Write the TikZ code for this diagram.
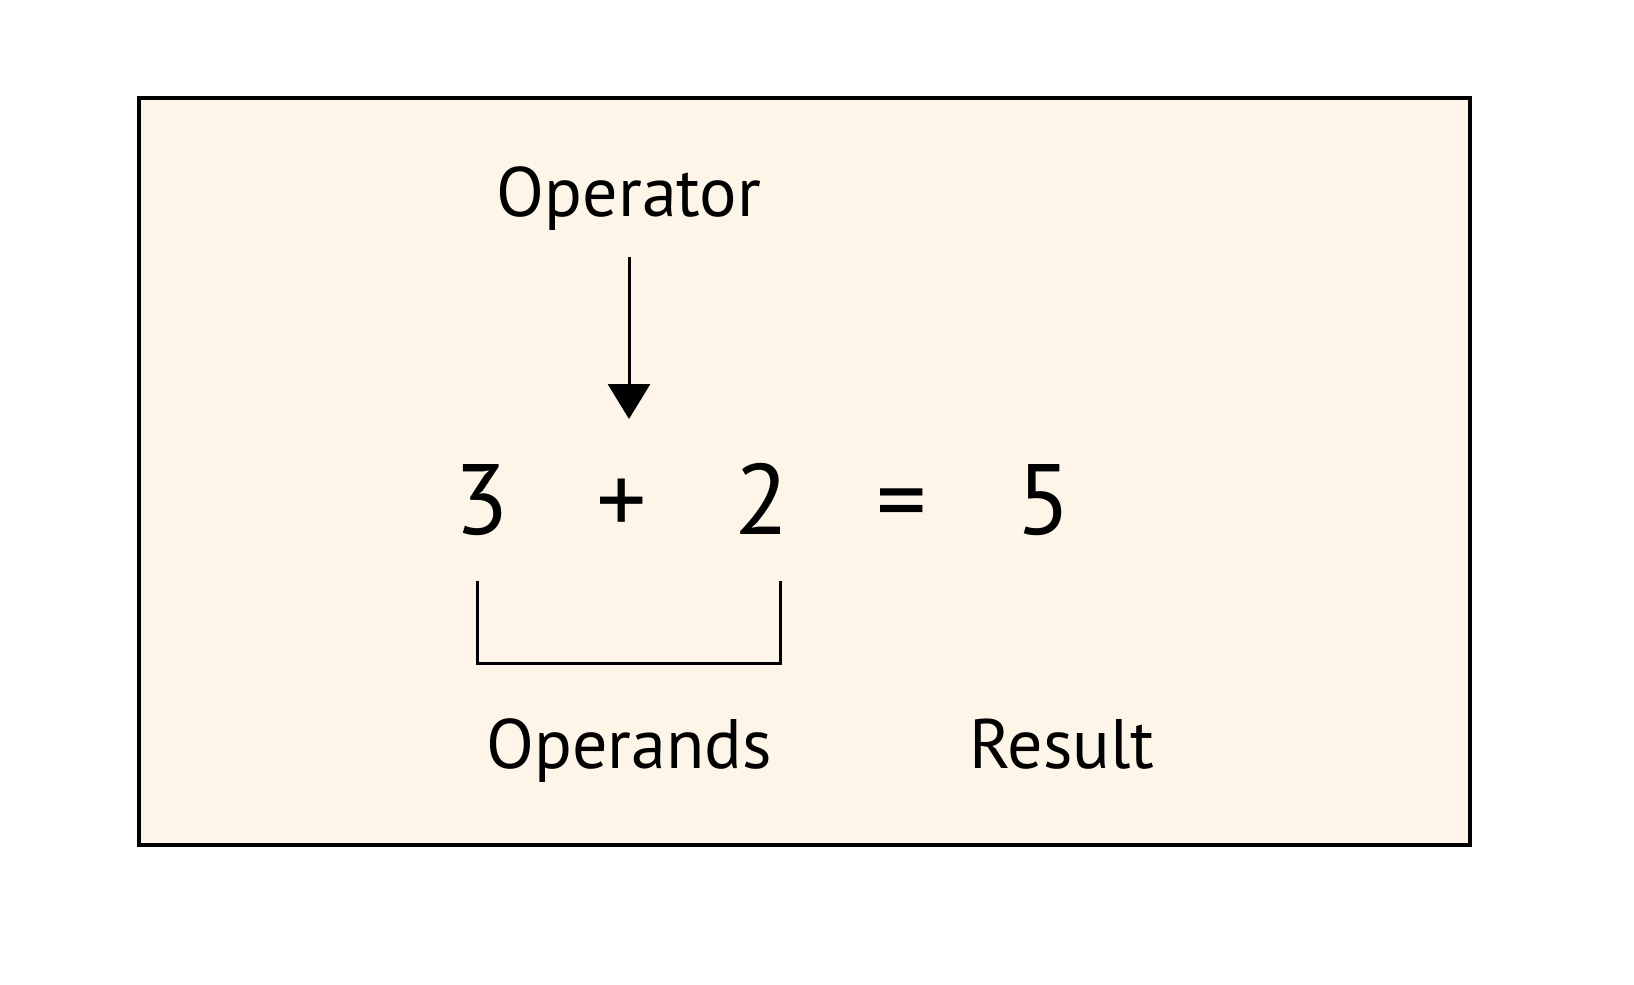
\documentclass[tikz,border=0pt]{standalone}
\usepackage{fontspec}
\setmainfont{PT Sans}
\usetikzlibrary{arrows.meta}
\definecolor{boxfill}{HTML}{FDF5E7}
\tikzset{
  lbl/.style={anchor=base, inner sep=0pt, font=\fontsize{70}{80}\selectfont},
  num/.style={anchor=base, inner sep=0pt, font=\fontsize{100}{110}\selectfont},
  frame/.style={draw=black, fill=boxfill, line width=3.5pt},
  conn/.style={draw=black, line width=3pt}
}
\begin{document}
\begin{tikzpicture}[x=1pt,y=-1pt]
\useasboundingbox (0,0) rectangle (1634,985);
\node[frame, minimum width=1331pt, minimum height=747pt, anchor=north west, inner sep=0pt] (box) at (137,96) {};
\node[lbl] (operator) at (629,216) {Operator};
\node[num] (n3) at (482,534) {3};
\node[num] (plus) at (622,534) {+};
\node[num] (n2) at (762,534) {2};
\node[num] (eq) at (902,534) {=};
\node[num] (n5) at (1044,534) {5};
\node[lbl] (operands) at (629,768) {Operands};
\node[lbl] (result) at (1062,768) {Result};
\coordinate (atop) at (629,257);
\coordinate (atip) at (629,419);
\draw[conn, -{Triangle[width=42pt,length=35pt]}] (atop) -- (atip);
\coordinate (bl) at (477,581);
\coordinate (br) at (780,581);
\draw[conn] (bl) -- (477,663) -- (780,663) -- (br);
\end{tikzpicture}
\end{document}
